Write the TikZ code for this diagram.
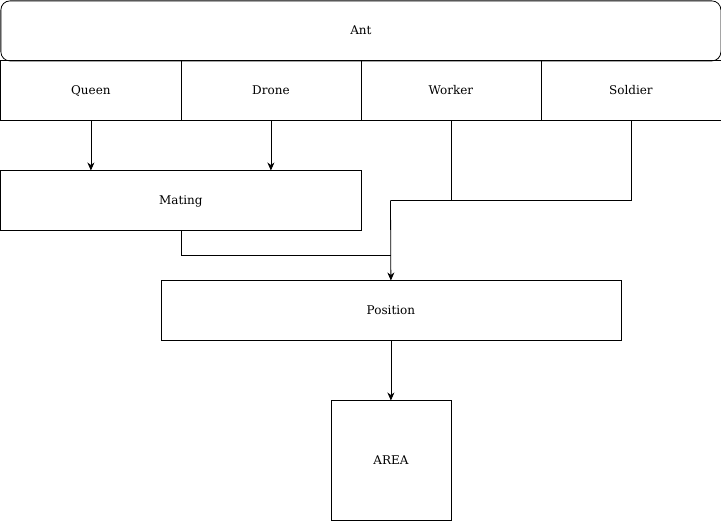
\documentclass[tikz,border=0pt]{standalone}
\usepackage{fontspec}
\setmainfont{DejaVu Serif}
\usetikzlibrary{arrows.meta}
\begin{document}
\begin{tikzpicture}[x=1pt,y=-1pt,
  box/.style={draw,line width=0.8pt,minimum width=#1,inner sep=0pt,text height=9pt,text depth=2.5pt,font=\fontsize{12}{14}\selectfont},
  conn/.style={draw,line width=0.8pt},
  arr/.style={conn,-{Stealth[length=8pt,width=7pt,inset=2.5pt]}}]
\useasboundingbox (-0.5,-0.5) rectangle (720.5,520.5);
\node[box=720pt,minimum height=60pt,rounded corners=9pt,anchor=north west] (ant) at (0,0) {Ant};
\node[box=180pt,minimum height=60pt,anchor=north west] (queen) at (0,60) {Queen};
\node[box=180pt,minimum height=60pt,anchor=north west] (drone) at (180,60) {Drone};
\node[box=180pt,minimum height=60pt,anchor=north west] (worker) at (360,60) {Worker};
\node[box=180pt,minimum height=60pt,anchor=north west] (soldier) at (540,60) {Soldier};
\node[box=360pt,minimum height=60pt,anchor=north west] (mating) at (0,170) {Mating};
\node[box=460pt,minimum height=60pt,anchor=north west] (position) at (160,280) {Position};
\node[box=120pt,minimum height=120pt,anchor=north west] (area) at (330,400) {AREA};
\draw[arr] (queen.south) -- (queen.south |- mating.north);
\draw[arr] (drone.south) -- (drone.south |- mating.north);
\coordinate (j) at (390,200);
\draw[conn] (worker.south) |- (j);
\draw[conn] (soldier.south) |- (j);
\coordinate (m) at (390,255);
\draw[conn] (mating.south) |- (m);
\draw[arr] (j) -- (position.north);
\draw[arr] (position.south) -- (area.north);
\end{tikzpicture}
\end{document}
